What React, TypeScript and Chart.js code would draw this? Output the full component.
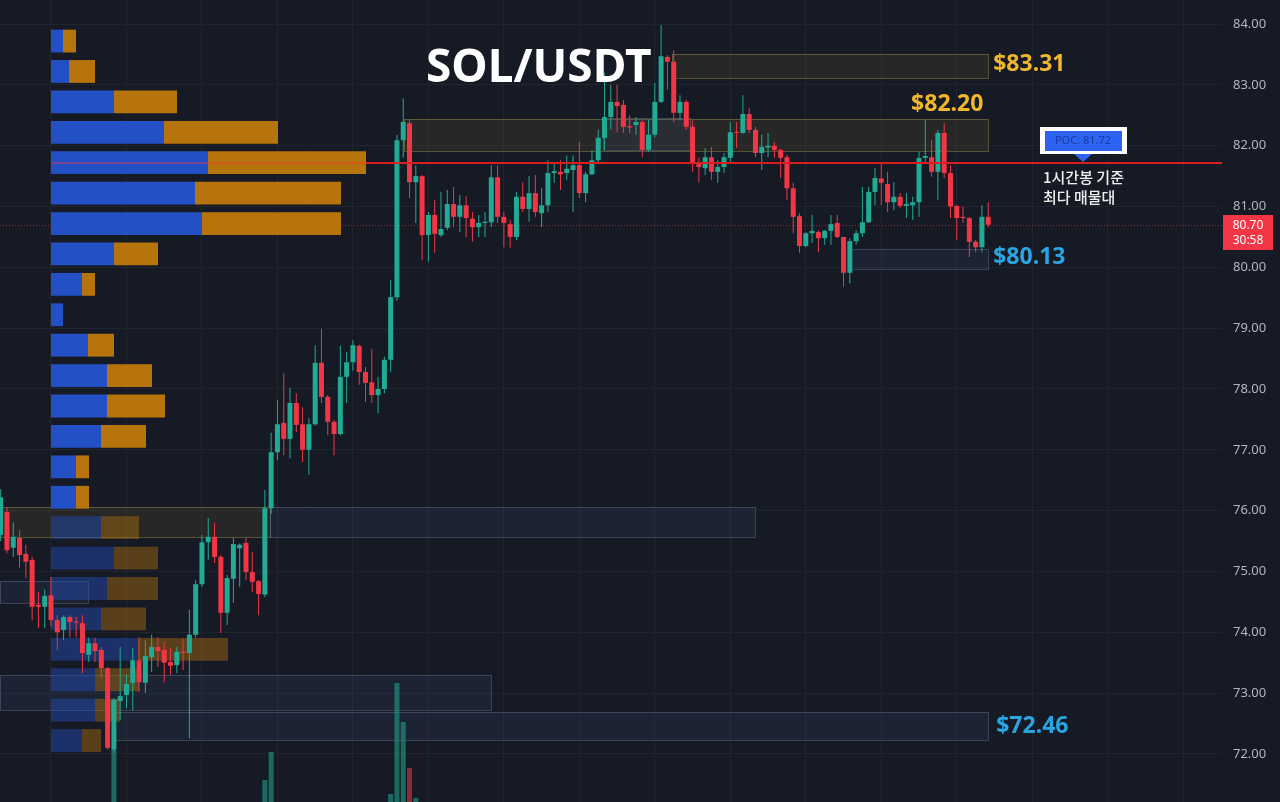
import React, { useEffect, useRef } from 'react';
import { Chart, registerables } from 'chart.js';

Chart.register(...registerables);

// ---------------- data ----------------
const firstCandleIndex = -8;

const opens = [
  75.60, 75.98, 75.39, 75.55, 75.29, 75.19, 74.45, 74.42,
  74.61, 74.20, 74.04, 74.25, 74.17, 74.15, 73.63, 73.82, 73.71, 73.41,
  72.07, 72.87, 72.97, 73.17, 73.54, 73.17, 73.59, 73.76, 73.71, 73.51,
  73.46, 73.68, 73.66, 73.96, 74.79, 75.48, 75.57, 75.24, 74.32, 74.88,
  75.38, 75.47, 74.99, 74.84, 74.62, 76.04, 76.96, 77.44, 77.18, 77.77,
  77.42, 77.00, 77.42, 78.43, 77.87, 77.46, 77.26, 78.20, 78.44, 78.71,
  78.28, 78.11, 77.90, 78.00, 78.48, 79.51, 82.09, 82.37, 81.40, 81.50,
  80.53, 80.86, 80.53, 80.65, 81.04, 80.83, 81.02, 80.80, 80.66, 80.73,
  80.74, 81.48, 80.83, 80.71, 80.50, 81.16, 80.96, 81.22, 80.89, 81.02,
  81.55, 81.57, 81.55, 81.60, 81.68, 81.22, 81.53, 81.76, 82.13, 82.47,
  82.72, 82.67, 82.32, 82.34, 82.39, 81.93, 82.18, 82.72, 83.46, 83.38,
  82.54, 82.72, 82.31, 81.73, 81.63, 81.81, 81.57, 81.65, 81.80, 82.22,
  82.21, 82.52, 82.26, 81.88, 81.97, 82.00, 81.93, 81.81, 81.30, 80.84,
  80.35, 80.56, 80.58, 80.48, 80.60, 80.73, 80.50, 79.91, 80.43, 80.56,
  80.74, 81.24, 81.46, 81.37, 81.07, 81.16, 81.01, 81.02, 81.07, 81.80,
  81.81, 81.57, 82.21, 81.55, 81.01, 80.83, 80.81, 80.42, 80.33, 80.83,
];
const highs = [
  76.35, 76.06, 75.81, 75.68, 75.44, 75.24, 74.66, 74.70,
  74.91, 74.28, 74.28, 74.28, 74.25, 74.28, 73.91, 73.91, 73.76, 73.43,
  72.92, 73.76, 73.30, 73.74, 73.92, 73.87, 73.96, 73.92, 73.84, 73.74,
  73.76, 73.89, 74.37, 74.86, 75.60, 75.88, 75.80, 75.27, 74.94, 75.55,
  75.46, 75.55, 75.32, 74.86, 76.34, 77.28, 77.82, 78.26, 78.02, 77.93,
  77.70, 77.52, 78.72, 78.99, 77.90, 77.49, 78.71, 78.61, 78.80, 78.73,
  78.36, 78.66, 78.20, 78.53, 79.79, 82.18, 82.78, 82.44, 81.68, 81.52,
  80.91, 81.11, 81.24, 81.27, 81.32, 81.19, 81.17, 80.91, 80.86, 80.91,
  81.68, 81.68, 80.91, 80.78, 81.24, 81.40, 81.50, 81.52, 81.30, 81.76,
  81.73, 81.76, 81.84, 81.84, 82.06, 81.57, 81.93, 82.26, 83.20, 83.00,
  83.00, 82.75, 82.50, 82.47, 82.42, 82.42, 83.03, 83.98, 83.49, 83.57,
  82.83, 82.75, 82.42, 81.81, 81.96, 81.98, 81.76, 81.88, 82.39, 82.39,
  82.83, 82.62, 82.31, 82.18, 82.21, 82.06, 81.95, 81.85, 81.39, 80.89,
  80.58, 80.86, 80.61, 80.61, 80.86, 80.86, 80.50, 80.48, 80.61, 81.32,
  81.32, 81.63, 81.73, 81.57, 81.40, 81.22, 81.22, 81.16, 81.90, 82.42,
  82.09, 82.26, 82.37, 81.68, 81.02, 81.00, 80.83, 80.45, 81.02, 81.07,
];
const lows = [
  75.50, 75.30, 75.24, 75.06, 74.89, 74.20, 74.07, 74.07,
  74.09, 73.71, 73.87, 73.92, 73.92, 73.33, 73.51, 73.51, 73.26, 72.07,
  72.02, 72.56, 72.75, 72.72, 73.02, 73.00, 73.35, 73.43, 73.18, 73.30,
  73.33, 73.38, 72.26, 73.91, 74.75, 75.19, 75.14, 73.99, 74.12, 74.48,
  74.75, 74.86, 74.66, 74.28, 74.58, 75.95, 76.83, 76.91, 76.86, 77.29,
  76.80, 76.59, 77.40, 77.77, 77.24, 76.91, 77.24, 77.77, 78.30, 78.07,
  77.79, 77.77, 77.60, 77.93, 78.28, 79.45, 81.80, 81.14, 80.73, 80.12,
  80.09, 80.24, 80.50, 80.61, 80.66, 80.58, 80.50, 80.42, 80.50, 80.50,
  80.66, 80.73, 80.33, 80.32, 80.45, 80.91, 80.75, 80.83, 80.66, 80.91,
  81.39, 81.27, 81.44, 80.91, 81.14, 81.07, 81.52, 81.73, 81.93, 82.26,
  82.22, 82.21, 82.21, 82.18, 81.81, 81.90, 82.14, 82.70, 82.92, 82.39,
  82.42, 82.26, 81.57, 81.40, 81.52, 81.44, 81.39, 81.55, 81.73, 81.96,
  82.20, 82.21, 81.81, 81.60, 81.81, 81.80, 81.47, 81.11, 80.56, 80.24,
  80.33, 80.40, 80.25, 80.37, 80.37, 80.48, 79.68, 79.74, 80.37, 80.50,
  80.73, 81.02, 81.02, 80.91, 80.94, 80.97, 80.81, 80.78, 80.83, 81.73,
  81.49, 81.11, 81.47, 80.81, 80.45, 80.73, 80.17, 80.25, 80.25, 80.66,
];
const closes = [
  76.22, 75.35, 75.57, 75.27, 75.16, 74.42, 74.42, 74.60,
  74.20, 74.00, 74.25, 74.17, 74.16, 73.66, 73.82, 73.69, 73.41, 72.10,
  72.89, 72.95, 73.15, 73.54, 73.18, 73.61, 73.76, 73.69, 73.50, 73.45,
  73.68, 73.66, 73.96, 74.79, 75.48, 75.57, 75.24, 74.32, 74.89, 75.45,
  75.44, 74.99, 74.83, 74.63, 76.04, 76.96, 77.42, 77.18, 77.77, 77.41,
  77.00, 77.42, 78.43, 77.87, 77.46, 77.26, 78.20, 78.44, 78.72, 78.28,
  78.10, 77.90, 78.00, 78.48, 79.51, 82.09, 82.39, 81.40, 81.50, 80.53,
  80.86, 80.55, 80.63, 81.04, 80.83, 81.02, 80.81, 80.66, 80.73, 80.75,
  81.48, 80.83, 80.73, 80.50, 81.16, 80.96, 81.22, 80.91, 81.02, 81.55,
  81.58, 81.53, 81.62, 81.68, 81.22, 81.53, 81.76, 82.13, 82.47, 82.72,
  82.65, 82.31, 82.30, 82.39, 81.93, 82.18, 82.72, 83.47, 83.38, 82.54,
  82.72, 82.31, 81.73, 81.65, 81.81, 81.57, 81.65, 81.81, 82.22, 82.21,
  82.52, 82.26, 81.88, 81.98, 82.00, 81.93, 81.80, 81.30, 80.83, 80.35,
  80.56, 80.60, 80.48, 80.60, 80.71, 80.50, 79.91, 80.43, 80.56, 80.74,
  81.24, 81.47, 81.39, 81.07, 81.16, 81.01, 81.04, 81.07, 81.80, 81.83,
  81.57, 82.21, 81.55, 81.00, 80.81, 80.81, 80.42, 80.33, 80.83, 80.70,
];

// volume bars (thousands) that rise into view from the hidden volume pane
const volumeIndex = [10, 34, 35, 54, 55, 56, 57, 58];
const volumeValues = [520, 220, 500, 80, 1190, 800, 340, 40];
const volumeRising = [true, true, true, true, true, true, false, true];

// volume profile (visible range) rows
const profilePrices = [
  83.72, 83.22, 82.72, 82.22, 81.72, 81.22, 80.72, 80.22, 79.72, 79.22, 78.72, 78.22,
  77.72, 77.22, 76.72, 76.22, 75.72, 75.22, 74.72, 74.22, 73.72, 73.22, 72.72, 72.22,
];
const profileBuy = [
  120, 180, 630, 1130, 1570, 1440, 1510, 630, 310, 120, 370, 560,
  560, 500, 250, 250, 500, 630, 560, 500, 870, 440, 440, 310,
];
const profileSell = [
  130, 260, 630, 1140, 1580, 1460, 1390, 440, 130, 0, 260, 450,
  580, 450, 130, 130, 380, 440, 510, 450, 900, 440, 250, 190,
];
const profileValueAreaLow = 75.97;

// support / resistance zones (candle index range, price range)
const zoneStart = [98.7, 56.1, 87.8, 127.0, 10.2, -8.1, 34.8, -8.1, -8.1];
const zoneEnd = [149.0, 149.0, 101.6, 149.0, 149.0, 34.8, 111.9, 5.9, 70.0];
const zoneTop = [83.51, 82.44, 82.45, 80.30, 72.69, 76.06, 76.06, 74.84, 73.30];
const zoneBottom = [83.11, 81.91, 81.93, 79.97, 72.23, 75.57, 75.57, 74.48, 72.72];
const zoneKind = ['gold', 'gold', 'blue', 'blue', 'blue', 'gold', 'blue', 'blue', 'blue'];

const zoneLabels = ['$83.31', '$82.20', '$80.13', '$72.46'];
const zoneLabelZone = [0, 1, 3, 4];

const pocPrice = 81.72;
const lastPrice = 80.7;
const countdown = '30:58';
const titleText = 'SOL/USDT';
const noteLines = ['1시간봉 기준', '최다 매물대'];

const priceTicks = [72, 73, 74, 75, 76, 77, 78, 79, 80, 81, 82, 83, 84];
const priceMin = 71.21;
const priceMax = 84.395;
const indexMin = -8.108;
const indexMax = 186.17;
const gridEvery = 12;
const volumeAxisMax = 8020;
const profileAxisMin = -510;
const profileAxisMax = 11710;

// ---------------- styles ----------------
const BG = '#161a25';
const GRID = '#20242f';
const UP = '#22ab94';
const DOWN = '#f23645';
const GOLD = '#f2b62b';
const SKY = '#29a6e1';
const zoneStyles: Record<string, { fill: string; border: string }> = {
  gold: { fill: 'rgba(125,115,45,0.16)', border: 'rgba(150,140,70,0.5)' },
  blue: { fill: 'rgba(70,95,140,0.14)', border: 'rgba(105,120,155,0.42)' },
};

const candleX = opens.map((_, k) => firstCandleIndex + k);
const candleColors = opens.map((o, k) => (closes[k] >= o ? UP : DOWN));
const xGridValues: number[] = [];
for (let v = 0; v <= indexMax; v += gridEvery) xGridValues.push(v);

const overlayPlugin = {
  id: 'overlay',
  beforeDatasetsDraw(chart: any) {
    const { ctx, chartArea, scales } = chart;
    const x = scales.x;
    const y = scales.y;
    ctx.save();
    ctx.beginPath();
    ctx.rect(chartArea.left, chartArea.top, chartArea.right - chartArea.left, chartArea.bottom - chartArea.top);
    ctx.clip();
    zoneStart.forEach((s, k) => {
      const x1 = Math.round(x.getPixelForValue(s));
      const x2 = Math.round(x.getPixelForValue(zoneEnd[k]));
      const y1 = Math.round(y.getPixelForValue(zoneTop[k]));
      const y2 = Math.round(y.getPixelForValue(zoneBottom[k]));
      const st = zoneStyles[zoneKind[k]];
      ctx.fillStyle = st.fill;
      ctx.fillRect(x1, y1, x2 - x1, y2 - y1);
      ctx.strokeStyle = st.border;
      ctx.lineWidth = 1;
      ctx.strokeRect(x1 + 0.5, y1 + 0.5, x2 - x1, y2 - y1);
    });
    // current price dotted line
    const yl = Math.round(y.getPixelForValue(lastPrice)) + 0.5;
    ctx.setLineDash([1, 2]);
    ctx.strokeStyle = 'rgba(242,54,69,0.55)';
    ctx.beginPath();
    ctx.moveTo(chartArea.left, yl);
    ctx.lineTo(chartArea.right, yl);
    ctx.stroke();
    ctx.restore();
  },
  afterDatasetsDraw(chart: any) {
    const { ctx, chartArea, scales } = chart;
    const x = scales.x;
    const y = scales.y;
    const xp = scales.xp;
    ctx.save();

    // POC line
    const pocRow = profilePrices.indexOf(pocPrice);
    const yPoc = Math.round(y.getPixelForValue(pocPrice));
    const pStart = xp.getPixelForValue(0);
    const pEnd = xp.getPixelForValue(profileBuy[pocRow] + profileSell[pocRow]);
    ctx.lineWidth = 2;
    ctx.strokeStyle = 'rgba(255,50,50,0.38)';
    ctx.beginPath();
    ctx.moveTo(pStart, yPoc);
    ctx.lineTo(pEnd, yPoc);
    ctx.stroke();
    ctx.strokeStyle = '#d81e22';
    ctx.beginPath();
    ctx.moveTo(pEnd, yPoc);
    ctx.lineTo(chartArea.right, yPoc);
    ctx.stroke();

    // title
    ctx.fillStyle = '#ffffff';
    ctx.font = 'bold 46px "Noto Sans", sans-serif';
    ctx.textAlign = 'left';
    ctx.textBaseline = 'middle';
    ctx.fillText(titleText, 426, 69);

    // zone labels
    ctx.font = 'bold 23px "Noto Sans", sans-serif';
    zoneLabels.forEach((t, k) => {
      const z = zoneLabelZone[k];
      const xr = x.getPixelForValue(zoneEnd[z]);
      const yt = y.getPixelForValue(zoneTop[z]);
      const yb = y.getPixelForValue(zoneBottom[z]);
      ctx.fillStyle = zoneKind[z] === 'gold' ? GOLD : SKY;
      if (k === 1) {
        ctx.textAlign = 'center';
        ctx.fillText(t, xr - 41, yt - 14);
      } else {
        ctx.textAlign = 'left';
        ctx.fillText(t, xr + (k === 3 ? 8 : 5), (yt + yb) / 2 - (k === 3 ? 0 : 2));
      }
    });

    // POC callout
    const cx = 1083;
    ctx.fillStyle = '#ffffff';
    ctx.fillRect(cx - 43, yPoc - 36, 87, 27);
    ctx.fillStyle = '#2c63f0';
    ctx.fillRect(cx - 38, yPoc - 32, 77, 20);
    ctx.fillStyle = '#1c3aa4';
    ctx.font = '11px "Noto Sans", sans-serif';
    ctx.textAlign = 'center';
    ctx.fillText('POC: ' + pocPrice.toFixed(2), cx, yPoc - 22);
    ctx.fillStyle = '#2c63f0';
    ctx.beginPath();
    ctx.moveTo(cx - 9, yPoc - 9);
    ctx.lineTo(cx + 9, yPoc - 9);
    ctx.lineTo(cx, yPoc - 1);
    ctx.closePath();
    ctx.fill();
    ctx.fillStyle = '#eeeeee';
    ctx.font = '500 15px "Noto Sans CJK KR", sans-serif';
    ctx.textAlign = 'left';
    ctx.fillText(noteLines[0], cx - 40, yPoc + 14);
    ctx.fillText(noteLines[1], cx - 40, yPoc + 34);

    // current price label on axis
    const yl = Math.round(y.getPixelForValue(lastPrice));
    const bx = Math.round(chartArea.right) + 1;
    ctx.fillStyle = DOWN;
    ctx.fillRect(bx, yl - 10, 50, 35);
    ctx.fillStyle = '#ffffff';
    ctx.font = '12px "Noto Sans", sans-serif';
    ctx.textAlign = 'center';
    ctx.fillText(lastPrice.toFixed(2), bx + 25, yl + 1);
    ctx.fillText(countdown, bx + 25, yl + 16);
    ctx.restore();
  },
};

export default function App() {
  const ref = useRef<HTMLCanvasElement>(null);
  useEffect(() => {
    document.body.style.margin = '0';
    document.body.style.background = BG;
    const profileColorsBuy = profilePrices.map((p) => (p >= profileValueAreaLow ? '#2450c6' : 'rgba(36,80,198,0.42)'));
    const profileColorsSell = profilePrices.map((p) => (p >= profileValueAreaLow ? '#b8740c' : 'rgba(184,116,12,0.42)'));
    const chart = new Chart(ref.current as HTMLCanvasElement, {
      type: 'bar',
      data: {
        datasets: [
          {
            type: 'bar',
            label: 'body',
            data: candleX.map((cx, k) => ({ x: cx, y: [opens[k], closes[k]] })) as any,
            backgroundColor: candleColors,
            barPercentage: 0.9,
            categoryPercentage: 1,
            maxBarThickness: 5,
            minBarLength: 1,
            grouped: false,
            order: 0,
            xAxisID: 'x',
            yAxisID: 'y',
          } as any,
          {
            type: 'bar',
            label: 'wick',
            data: candleX.map((cx, k) => ({ x: cx, y: [lows[k], highs[k]] })) as any,
            backgroundColor: candleColors,
            barPercentage: 0.5,
            categoryPercentage: 1,
            maxBarThickness: 1,
            grouped: false,
            order: 1,
            xAxisID: 'x',
            yAxisID: 'y',
          } as any,
          {
            type: 'bar',
            label: 'profile buy',
            indexAxis: 'y',
            data: profilePrices.map((p, k) => ({ y: p, x: [0, profileBuy[k]] })) as any,
            backgroundColor: profileColorsBuy,
            barPercentage: 0.95,
            categoryPercentage: 1,
            maxBarThickness: 26,
            grouped: false,
            order: 3,
            xAxisID: 'xp',
            yAxisID: 'yp',
          } as any,
          {
            type: 'bar',
            label: 'profile sell',
            indexAxis: 'y',
            data: profilePrices.map((p, k) => ({ y: p, x: [profileBuy[k], profileBuy[k] + profileSell[k]] })) as any,
            backgroundColor: profileColorsSell,
            barPercentage: 0.95,
            categoryPercentage: 1,
            maxBarThickness: 26,
            grouped: false,
            order: 3,
            xAxisID: 'xp',
            yAxisID: 'yp',
          } as any,
          {
            type: 'bar',
            label: 'volume',
            data: volumeIndex.map((vx, k) => ({ x: vx, y: volumeValues[k] })) as any,
            backgroundColor: volumeRising.map((r) => (r ? 'rgba(34,171,148,0.55)' : 'rgba(242,54,69,0.55)')),
            barPercentage: 0.85,
            categoryPercentage: 1,
            maxBarThickness: 5,
            grouped: false,
            order: 4,
            xAxisID: 'x',
            yAxisID: 'yv',
          } as any,
        ],
      },
      options: {
        responsive: false,
        animation: false,
        events: [],
        layout: { padding: 0 },
        plugins: {
          legend: { display: false },
          tooltip: { enabled: false },
          title: { display: false },
        },
        scales: {
          x: {
            type: 'linear',
            position: 'bottom',
            min: indexMin,
            max: indexMax,
            offset: false,
            grid: { color: GRID, drawTicks: false, offset: false },
            border: { display: false },
            ticks: { display: false },
            afterBuildTicks: (s: any) => {
              s.ticks = xGridValues.map((value) => ({ value }));
            },
            afterFit: (s: any) => {
              s.height = 0;
              s.paddingLeft = 0;
              s.paddingRight = 0;
            },
          },
          y: {
            type: 'linear',
            position: 'right',
            min: priceMin,
            max: priceMax,
            offset: false,
            grid: { color: GRID, drawTicks: false, offset: false },
            border: { display: false },
            ticks: {
              color: '#b2b5be',
              font: { family: '"Noto Sans", sans-serif', size: 13 },
              padding: 11,
              autoSkip: false,
              callback: (v: any) => Number(v).toFixed(2),
            },
            afterBuildTicks: (s: any) => {
              s.ticks = priceTicks.map((value) => ({ value }));
            },
            afterFit: (s: any) => {
              s.width = 58;
              s.paddingTop = 0;
              s.paddingBottom = 0;
            },
          },
          yp: {
            type: 'linear',
            axis: 'y',
            display: false,
            offset: false,
            min: priceMin,
            max: priceMax,
          },
          yv: {
            type: 'linear',
            axis: 'y',
            display: false,
            min: 0,
            max: volumeAxisMax,
          },
          xp: {
            type: 'linear',
            axis: 'x',
            display: false,
            offset: false,
            min: profileAxisMin,
            max: profileAxisMax,
          },
        } as any,
      },
      plugins: [overlayPlugin],
    } as any);
    return () => chart.destroy();
  }, []);
  return (
    <div style={{ position: 'fixed', left: 0, top: 0, width: 1280, height: 802, background: BG }}>
      <canvas ref={ref} width={1280} height={802} style={{ display: 'block', width: 1280, height: 802 }} />
    </div>
  );
}
